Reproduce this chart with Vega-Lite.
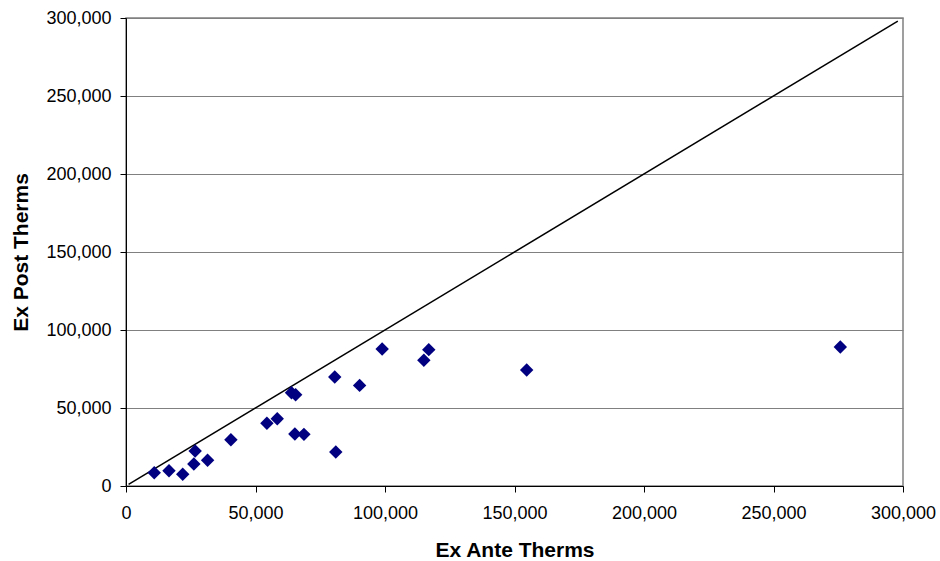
{
  "$schema": "https://vega.github.io/schema/vega-lite/v6.json",
  "width": 777,
  "height": 468,
  "autosize": {"type": "none"},
  "padding": {"left": 126, "top": 18, "right": 37, "bottom": 75},
  "background": "white",
  "config": {
    "font": "Liberation Sans",
    "view": {"stroke": "#808080", "strokeWidth": 1.5},
    "axis": {
      "labelFont": "Liberation Sans",
      "titleFont": "Liberation Sans",
      "labelFontSize": 18,
      "titleFontSize": 21,
      "titleFontWeight": "bold",
      "labelColor": "black",
      "titleColor": "black",
      "domainColor": "black",
      "tickColor": "black",
      "tickSize": 6,
      "gridColor": "#808080",
      "gridWidth": 1,
      "gridOpacity": 1
    }
  },
  "datasets": {
    "points": [
      {"ex_ante": 10900, "ex_post": 8500},
      {"ex_ante": 16600, "ex_post": 9800},
      {"ex_ante": 21900, "ex_post": 7500},
      {"ex_ante": 26200, "ex_post": 14100},
      {"ex_ante": 26700, "ex_post": 22400},
      {"ex_ante": 31500, "ex_post": 16500},
      {"ex_ante": 40500, "ex_post": 29700},
      {"ex_ante": 54400, "ex_post": 40200},
      {"ex_ante": 58400, "ex_post": 43100},
      {"ex_ante": 63900, "ex_post": 59800},
      {"ex_ante": 65500, "ex_post": 58500},
      {"ex_ante": 65200, "ex_post": 33300},
      {"ex_ante": 68700, "ex_post": 33100},
      {"ex_ante": 81000, "ex_post": 21800},
      {"ex_ante": 80600, "ex_post": 69900},
      {"ex_ante": 90200, "ex_post": 64500},
      {"ex_ante": 98900, "ex_post": 87800},
      {"ex_ante": 115000, "ex_post": 80600},
      {"ex_ante": 116900, "ex_post": 87400},
      {"ex_ante": 154700, "ex_post": 74400},
      {"ex_ante": 275800, "ex_post": 89100}
    ],
    "diagonal": [
      {"ex_ante": 1000, "ex_post": 1000},
      {"ex_ante": 298000, "ex_post": 298000}
    ]
  },
  "layer": [
    {
      "data": {"name": "diagonal"},
      "mark": {"type": "line", "color": "black", "strokeWidth": 1.5},
      "encoding": {
        "x": {
          "field": "ex_ante",
          "type": "quantitative",
          "scale": {"domain": [0, 300000], "nice": false},
          "axis": {
            "title": "Ex Ante Therms",
            "values": [0, 50000, 100000, 150000, 200000, 250000, 300000],
            "format": ",d",
            "grid": false,
            "labelPadding": 12,
            "titleBaseline": "alphabetic",
            "titleY": 70,
            "labelFlush": false
          }
        },
        "y": {
          "field": "ex_post",
          "type": "quantitative",
          "scale": {"domain": [0, 300000], "nice": false},
          "axis": {
            "title": "Ex Post Therms",
            "values": [0, 50000, 100000, 150000, 200000, 250000, 300000],
            "format": ",d",
            "grid": true,
            "labelPadding": 9,
            "titleBaseline": "alphabetic",
            "titleX": -99,
            "labelFlush": false
          }
        }
      }
    },
    {
      "data": {"name": "points"},
      "mark": {"type": "point", "shape": "diamond", "filled": true, "color": "#000080", "size": 180, "opacity": 1},
      "encoding": {
        "x": {"field": "ex_ante", "type": "quantitative"},
        "y": {"field": "ex_post", "type": "quantitative"}
      }
    }
  ]
}
